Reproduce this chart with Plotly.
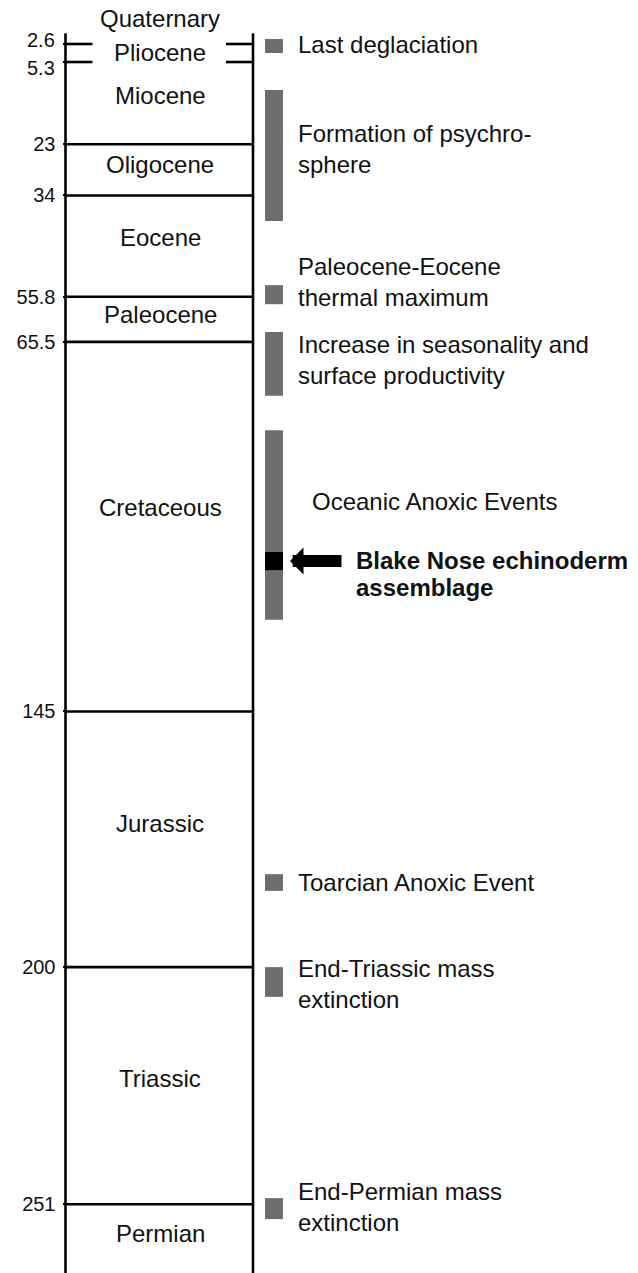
import plotly.graph_objects as go

W, H = 638, 1273
FONT = "Liberation Sans, Arial, Helvetica, sans-serif"

# ---------------- data (ages in Ma) ----------------
boundary_ages = [23, 34, 55.8, 65.5, 145, 200, 251]          # full-width boundaries
boundary_labels = ["23", "34", "55.8", "65.5", "145", "200", "251"]
stub_ages = [2.6, 5.3]                                        # short boundary stubs
stub_labels = ["2.6", "5.3"]

period_names = ["Quaternary", "Pliocene", "Miocene", "Oligocene", "Eocene",
                "Paleocene", "Cretaceous", "Jurassic", "Triassic", "Permian"]
period_label_ages = [-1.2, 3.8, 12.4, 27.4, 43.0, 59.6, 101.2, 169.0, 224.0, 257.3]

event_names = ["Last deglaciation", "Formation of psychro-<br>sphere",
               "Paleocene-Eocene<br>thermal maximum",
               "Increase in seasonality and<br>surface productivity",
               "Oceanic Anoxic Events", "Toarcian Anoxic Event",
               "End-Triassic mass<br>extinction", "End-Permian mass<br>extinction"]
event_start = [1.85, 11.3, 53.3, 63.4, 84.5, 180.0, 200.0, 249.7]
event_end = [3.95, 39.5, 57.4, 77.1, 125.3, 183.6, 206.4, 254.2]
event_label_ages = [2.6, 24.1, 52.6, 69.5, 99.9, 181.7, 203.6, 251.6]

blake_lines = ["Blake Nose echinoderm", "assemblage"]
blake_start, blake_end = 110.7, 114.6

column_top_age = 1.0
# ---------------- layout constants ----------------
TOP_RANGE = [3.95, -4.0]        # expanded top segment (Quaternary / Pliocene)
BOT_RANGE = [265.8, 3.36]
SPLIT = 1 - 53 / H
LEFT_X, RIGHT_X = 65.5, 253.0
STUB = 27
BAR_X, BAR_W = 274, 18
LABEL_X = 296
CENTER_X = 160
BAR_COLOR = "#6e6e6e"
TEXT_COLOR = "#111111"
LW = 2.6


def yref_for(age):
    return "y" if age <= TOP_RANGE[0] else "y2"


fig = go.Figure()

# column vertical lines (two segments: top panel and main panel)
for yax, y0, y1 in [("y", column_top_age, TOP_RANGE[0]), ("y2", BOT_RANGE[1], BOT_RANGE[0])]:
    fig.add_trace(go.Scatter(
        x=[LEFT_X, LEFT_X, None, RIGHT_X, RIGHT_X],
        y=[y0, y1, None, y0, y1], yaxis=yax, mode="lines",
        line=dict(color="black", width=LW), hoverinfo="skip", showlegend=False))

# stubs for 2.6 and 5.3
for a in stub_ages:
    fig.add_trace(go.Scatter(
        x=[LEFT_X, LEFT_X + STUB, None, RIGHT_X - STUB, RIGHT_X],
        y=[a, a, None, a, a], yaxis=yref_for(a), mode="lines",
        line=dict(color="black", width=LW), hoverinfo="skip", showlegend=False))

# full boundaries
bx, by = [], []
for a in boundary_ages:
    bx += [LEFT_X, RIGHT_X, None]
    by += [a, a, None]
fig.add_trace(go.Scatter(x=bx, y=by, yaxis="y2", mode="lines",
                         line=dict(color="black", width=LW),
                         hoverinfo="skip", showlegend=False))

# event bars
for s, e in zip(event_start, event_end):
    fig.add_trace(go.Bar(x=[BAR_X], y=[e - s], base=[s], width=BAR_W,
                         yaxis=yref_for(s), marker=dict(color=BAR_COLOR, line=dict(width=0)),
                         hoverinfo="skip", showlegend=False))
fig.add_trace(go.Bar(x=[BAR_X], y=[blake_end - blake_start], base=[blake_start], width=BAR_W,
                     yaxis="y2", marker=dict(color="black", line=dict(width=0)),
                     hoverinfo="skip", showlegend=False))

ann = []
for name, a in zip(period_names, period_label_ages):
    ann.append(dict(x=CENTER_X, y=a, xref="x", yref=yref_for(a), text=name,
                    showarrow=False, xanchor="center", yanchor="middle",
                    font=dict(family=FONT, size=24, color=TEXT_COLOR)))
for name, a in zip(event_names, event_label_ages):
    xx = LABEL_X + (14 if name.startswith("Oceanic") else 0)
    ann.append(dict(x=xx, y=a, xref="x", yref=yref_for(a), text=name,
                    showarrow=False, xanchor="left", yanchor="middle", align="left",
                    font=dict(family=FONT, size=24, color=TEXT_COLOR)))

# stub labels (2.6 nudged up, 5.3 nudged down, as in the original)
for lab, a, dy in zip(stub_labels, stub_ages, [4, -6]):
    ann.append(dict(x=57, y=a, xref="x", yref=yref_for(a), text=lab, showarrow=False,
                    xanchor="right", yanchor="middle", yshift=dy,
                    font=dict(family=FONT, size=20, color=TEXT_COLOR)))

blake_mid = (blake_start + blake_end) / 2
# arrow
ann.append(dict(x=290, y=blake_mid, xref="x", yref="y2", ax=343, ay=blake_mid,
                axref="x", ayref="y2", text="", showarrow=True, arrowhead=1,
                arrowwidth=12, arrowsize=0.375, arrowcolor="black", standoff=0))
for i, line in enumerate(blake_lines):
    ann.append(dict(x=354, y=blake_mid, xref="x", yref="y2", text="<b>" + line + "</b>",
                    showarrow=False, xanchor="left", yanchor="middle", align="left",
                    yshift=1 - 27 * i,
                    font=dict(family=FONT, size=24, color=TEXT_COLOR)))

tick_common = dict(anchor="free", position=LEFT_X / W, side="left", showline=False,
                   showgrid=False, zeroline=False, ticks="outside", ticklen=3,
                   tickwidth=2, tickcolor="black", tickmode="array",
                   ticklabelstandoff=3,
                   tickfont=dict(family=FONT, size=20, color=TEXT_COLOR))

fig.update_layout(
    width=W, height=H, margin=dict(l=0, r=0, t=0, b=0),
    paper_bgcolor="white", plot_bgcolor="white", barmode="overlay",
    xaxis=dict(range=[0, W], domain=[0, 1], visible=False),
    yaxis=dict(domain=[SPLIT, 1], range=TOP_RANGE, tickvals=[stub_ages[0]],
               ticktext=[""], **tick_common),
    yaxis2=dict(domain=[0, SPLIT], range=BOT_RANGE,
                tickvals=[stub_ages[1]] + boundary_ages,
                ticktext=[""] + boundary_labels, **tick_common),
    annotations=ann,
)

fig.write_html("out.html", config={"displayModeBar": False},
               post_script="document.body.style.margin='0px';")
